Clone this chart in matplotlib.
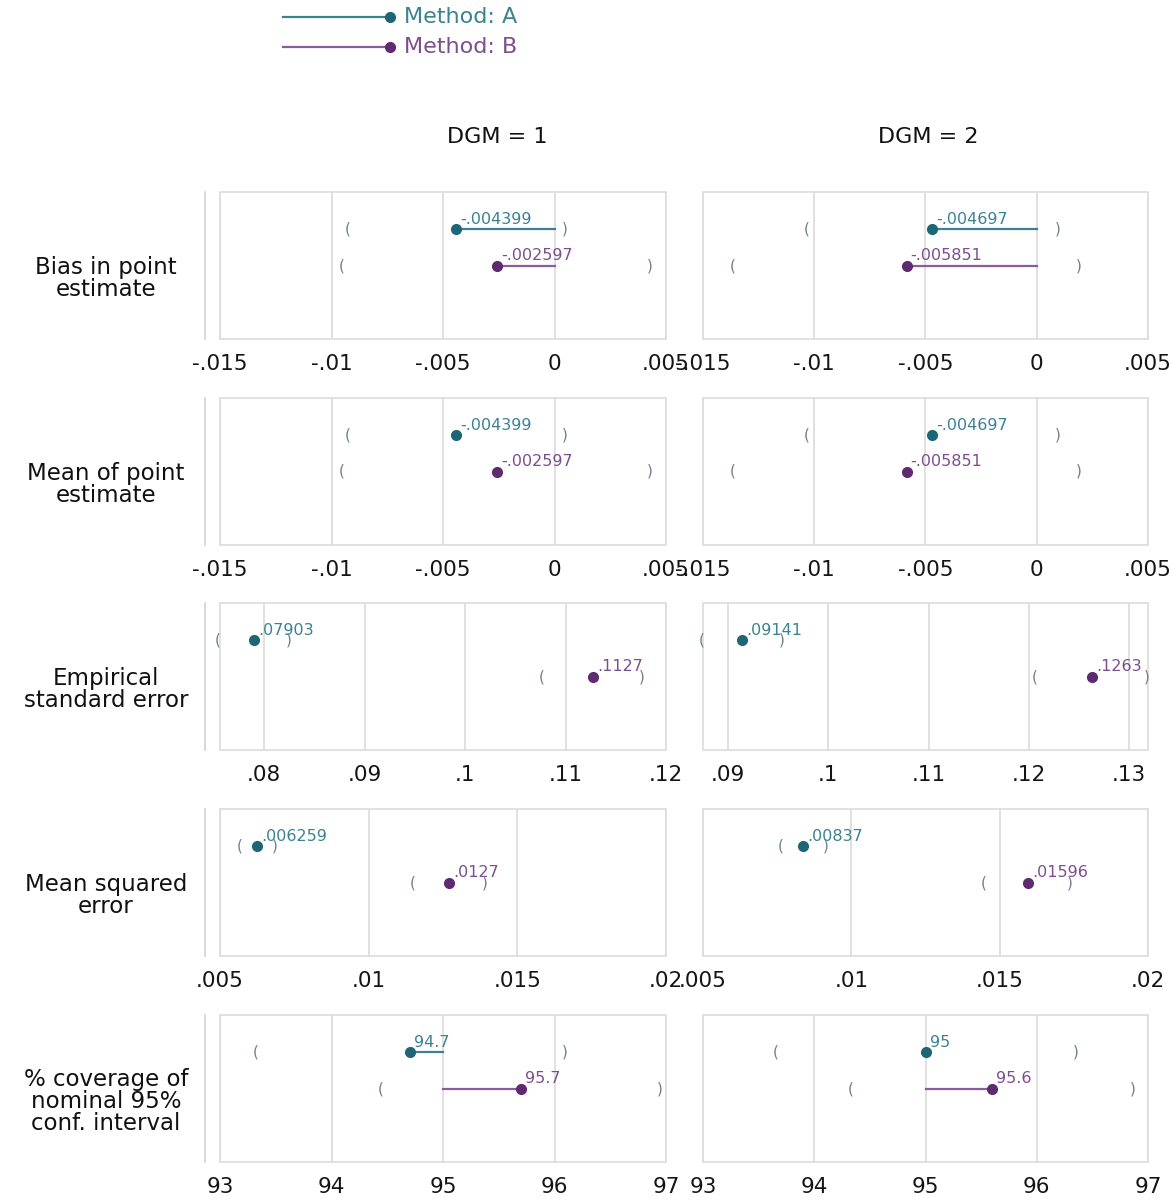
import matplotlib
matplotlib.use('Agg')
import matplotlib.pyplot as plt
from matplotlib.patches import Rectangle

plt.rcParams['font.family'] = 'DejaVu Sans'

# performance measures (rows) and their target values
measures = ['Bias in point\nestimate', 'Mean of point\nestimate',
            'Empirical\nstandard error', 'Mean squared\nerror',
            '% coverage of\nnominal 95%\nconf. interval']
targets = [0, None, None, None, 95]
dgm_titles = ['DGM = 1', 'DGM = 2']
methods = ['Method: A', 'Method: B']

# estimates
est_a_dgm1 = [-.004399, -.004399, .07903, .006259, 94.7]
est_b_dgm1 = [-.002597, -.002597, .1127, .0127, 95.7]
est_a_dgm2 = [-.004697, -.004697, .09141, .00837, 95]
est_b_dgm2 = [-.005851, -.005851, .1263, .01596, 95.6]

# Monte Carlo interval ends (the brackets)
lo_a_dgm1 = [-.00929, -.00929, .0754, .00567, 93.32]
hi_a_dgm1 = [.00044, .00044, .0824, .00685, 96.09]
lo_b_dgm1 = [-.00956, -.00956, .1076, .01147, 94.44]
hi_b_dgm1 = [.00427, .00427, .1176, .01389, 96.94]
lo_a_dgm2 = [-.01036, -.01036, .0874, .00762, 93.65]
hi_a_dgm2 = [.00094, .00094, .0954, .00913, 96.35]
lo_b_dgm2 = [-.01365, -.01365, .1206, .01446, 94.33]
hi_b_dgm2 = [.00189, .00189, .1318, .01738, 96.86]

# axis ranges and ticks per panel
xlim_dgm1 = [(-.015, .005), (-.015, .005), (.0756, .12), (.005, .02), (93, 97)]
xlim_dgm2 = [(-.015, .005), (-.015, .005), (.0875, .1319), (.005, .02), (93, 97)]
ticks_dgm1 = [[-.015, -.01, -.005, 0, .005], [-.015, -.01, -.005, 0, .005],
              [.08, .09, .1, .11, .12], [.005, .01, .015, .02], [93, 94, 95, 96, 97]]
ticks_dgm2 = [[-.015, -.01, -.005, 0, .005], [-.015, -.01, -.005, 0, .005],
              [.09, .1, .11, .12, .13], [.005, .01, .015, .02], [93, 94, 95, 96, 97]]

panels = [
    dict(est=[est_a_dgm1, est_b_dgm1], lo=[lo_a_dgm1, lo_b_dgm1], hi=[hi_a_dgm1, hi_b_dgm1],
         xlim=xlim_dgm1, ticks=ticks_dgm1),
    dict(est=[est_a_dgm2, est_b_dgm2], lo=[lo_a_dgm2, lo_b_dgm2], hi=[hi_a_dgm2, hi_b_dgm2],
         xlim=xlim_dgm2, ticks=ticks_dgm2),
]

dot_col = ['#1d6675', '#5e2a70']
line_col = ['#3d8090', '#8a5c98']
text_col = ['#3b8292', '#7d4e8e']
brk_col = ['#6f8288', '#85758c']
ypos = [3, 2]


def stata_fmt(v):
    s = '%.4g' % v
    return s.replace('0.', '.', 1) if '0.' in s else s


W, H = 1173, 1201
fig = plt.figure(figsize=(W / 100, H / 100), dpi=100)


def px_axes(x, y, w, h):
    return fig.add_axes([x / W, 1 - (y + h) / H, w / W, h / H])


col_x = [220, 703]
col_w = [446, 445]
row_y = [192, 398, 603, 809, 1015]
row_h = 147

for c, p in enumerate(panels):
    for r in range(len(measures)):
        ax = px_axes(col_x[c], row_y[r], col_w[c], row_h)
        ax.set_xlim(*p['xlim'][r])
        ax.set_ylim(0, 4)
        ax.set_xticks(p['ticks'][r])
        ax.set_xticklabels([stata_fmt(t) for t in p['ticks'][r]])
        ax.set_yticks([])
        ax.tick_params(axis='x', length=0, pad=11, labelsize=15.5, labelcolor='#151515')
        ax.grid(axis='x', color='#dadada', lw=1.2)
        ax.set_axisbelow(True)
        for s in ['top', 'right', 'bottom']:
            ax.spines[s].set_visible(False)
        if c == 0:
            ax.spines['left'].set_position(('outward', 11))
            ax.spines['left'].set_color('#d2d2d2')
            ax.spines['left'].set_linewidth(1.2)
            ax.text(-0.256, 0.41, measures[r], transform=ax.transAxes, ha='center',
                    va='center', fontsize=16.5, color='#111111', linespacing=0.95)
        else:
            ax.spines['left'].set_visible(False)
        ax.add_patch(Rectangle((0, 0), 1, 1, transform=ax.transAxes, fill=False,
                               ec='#dcdcdc', lw=1.2, clip_on=False, zorder=0.5))

        for m in range(2):
            est = p['est'][m][r]
            y = ypos[m]
            if targets[r] is not None:
                ax.plot([targets[r], est], [y, y], color=line_col[m], lw=1.6, zorder=2)
            ax.plot(est, y, 'o', ms=7, color=dot_col[m], zorder=3)
            ax.annotate(stata_fmt(est), (est, y), xytext=(3, 1.5), textcoords='offset points',
                        ha='left', va='bottom', fontsize=11.5, color=text_col[m])
            ax.text(p['lo'][m][r], y, '(', ha='center', va='center', fontsize=11,
                    color=brk_col[m])
            ax.text(p['hi'][m][r], y, ')', ha='center', va='center', fontsize=11,
                    color=brk_col[m])

for c, t in enumerate(dgm_titles):
    fig.text([497, 928][c] / W, 1 - 137 / H, t, ha='center', va='center',
             fontsize=16, color='#111111')

# legend drawn in pixel units
leg = px_axes(280, 0, 280, 65)
leg.set_xlim(0, 280)
leg.set_ylim(65, 0)
leg.axis('off')
for m in range(2):
    yy = [17, 47][m]
    leg.plot([3, 110], [yy, yy], color=line_col[m], lw=1.6)
    leg.plot(110, yy, 'o', ms=7, color=dot_col[m])
    leg.text(124, yy, methods[m], ha='left', va='center', fontsize=16, color=text_col[m])

fig.savefig('out.png', dpi=100)
